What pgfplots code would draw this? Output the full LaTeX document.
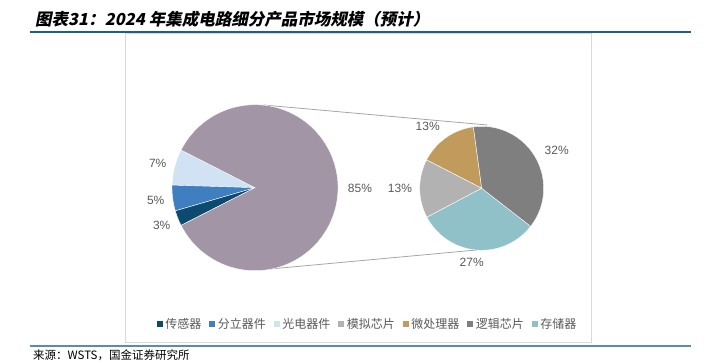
\documentclass[border=0pt]{standalone}
\usepackage{pgfplots}
\pgfplotsset{compat=1.18}
\usepackage{pgfplotstable}
\usepackage{fontspec}
\setmainfont{Liberation Sans}
\newfontfamily\cjk{Noto Sans CJK SC}
\newfontfamily\cjktitle[FakeSlant=0.2,BoldFeatures={FakeSlant=0.2}]{Noto Sans CJK SC}
\definecolor{cNavy}{HTML}{0D4A70}
\definecolor{cBlue}{HTML}{3F7FBF}
\definecolor{cLight}{HTML}{D0E2F3}
\definecolor{cBig}{HTML}{A295A6}
\definecolor{cLGrey}{HTML}{B2B2B2}
\definecolor{cTan}{HTML}{C09B5B}
\definecolor{cDark}{HTML}{7F7F7F}
\definecolor{cTeal}{HTML}{91C1C8}
\definecolor{lbl}{HTML}{595959}
\definecolor{topline}{HTML}{1F5E89}
\definecolor{botline}{HTML}{5B8DA8}

% first pie, counterclockwise from 153 degrees
\pgfplotstableread{
label value color
光电器件 7 cLight
分立器件 5 cBlue
传感器 3 cNavy
其他 85 cBig
}\pieone
% second pie (share of total), counterclockwise from 97.7 degrees
\pgfplotstableread{
label value color
微处理器 13 cTan
模拟芯片 13 cLGrey
存储器 27 cTeal
逻辑芯片 32 cDark
}\pietwo

\begin{document}
\begin{tikzpicture}
\begin{axis}[
  at={(0,0)}, anchor=south west,
  width=706pt, height=363pt, scale only axis,
  xmin=0, xmax=706, ymin=0, ymax=363,
  hide axis, clip=false,
  legend columns=7,
  legend image code/.code={\fill[#1] (0pt,-3pt) rectangle (6pt,3pt);},
  legend style={draw=none, fill=none, at={(axis cs:367,39)}, anchor=center,
    font=\cjk\fontsize{12}{14}\selectfont, text=lbl,
    nodes={inner sep=1pt},
    /tikz/every odd column/.append style={column sep=1.5pt},
    /tikz/every even column/.append style={column sep=7pt}},
]
\addlegendimage{fill=cNavy, draw=none}
\addlegendentry{传感器}
\addlegendimage{fill=cBlue, draw=none}
\addlegendentry{分立器件}
\addlegendimage{fill=cLight, draw=none}
\addlegendentry{光电器件}
\addlegendimage{fill=cLGrey, draw=none}
\addlegendentry{模拟芯片}
\addlegendimage{fill=cTan, draw=none}
\addlegendentry{微处理器}
\addlegendimage{fill=cDark, draw=none}
\addlegendentry{逻辑芯片}
\addlegendimage{fill=cTeal, draw=none}
\addlegendentry{存储器}

\pgfplotsextra{%
  \path (axis cs:0,0) rectangle (axis cs:706,363);
  % frame and rules
  \draw[color=black!15, line width=1pt] (axis cs:125,329) rectangle (axis cs:591,20);
  \draw[color=topline, line width=1.8pt] (axis cs:30,331) -- (axis cs:691,331);
  \draw[color=botline, line width=1.8pt] (axis cs:30,17) -- (axis cs:691,17);
  % connector lines
  \draw[color=black!35, line width=0.8pt] (axis cs:263.3,258) -- (axis cs:487.3,238);
  \draw[color=black!35, line width=0.8pt] (axis cs:270,94) -- (axis cs:476.7,113);
  % pie one
  \xdef\sa{153}%
  \foreach \i in {0,...,3}{%
    \pgfplotstablegetelem{\i}{value}\of\pieone\let\v\pgfplotsretval
    \pgfplotstablegetelem{\i}{color}\of\pieone\let\c\pgfplotsretval
    \pgfmathsetmacro\ea{\sa+\v*3.6}%
    \fill[fill=\c, draw=white, line width=0.4pt] (axis cs:255,175.3) -- ++(\sa:83pt)
      arc[start angle=\sa, end angle=\ea, radius=83pt] -- cycle;
    \xdef\sa{\ea}%
  }%
  % pie two
  \xdef\sa{97.7}%
  \foreach \i in {0,...,3}{%
    \pgfplotstablegetelem{\i}{value}\of\pietwo\let\v\pgfplotsretval
    \pgfplotstablegetelem{\i}{color}\of\pietwo\let\c\pgfplotsretval
    \pgfmathsetmacro\ea{\sa+\v*360/85}%
    \fill[fill=\c, draw=white, line width=0.4pt] (axis cs:481.7,174.7) -- ++(\sa:62pt)
      arc[start angle=\sa, end angle=\ea, radius=62pt] -- cycle;
    \xdef\sa{\ea}%
  }%
}
% labels
\begin{scope}[every node/.style={font=\fontsize{12}{14}\selectfont, text=lbl, inner sep=0pt}]
\node at (axis cs:360,175) {85\%};
\node at (axis cs:157.7,200) {7\%};
\node at (axis cs:155.7,163) {5\%};
\node at (axis cs:161.7,138) {3\%};
\node at (axis cs:400,175) {13\%};
\node at (axis cs:427.7,236.3) {13\%};
\node at (axis cs:556.7,212.3) {32\%};
\node at (axis cs:471.7,100.7) {27\%};
\end{scope}
\node[anchor=west, inner sep=0pt, font=\cjktitle\bfseries\fontsize{16.5}{18}\selectfont] at (axis cs:35,343.5) {图表31：2024 年集成电路细分产品市场规模（预计）};
\node[anchor=west, inner sep=0pt, font=\cjk\fontsize{11.5}{13}\selectfont] at (axis cs:33,8) {来源：WSTS，国金证券研究所};
\end{axis}
\end{tikzpicture}
\end{document}
